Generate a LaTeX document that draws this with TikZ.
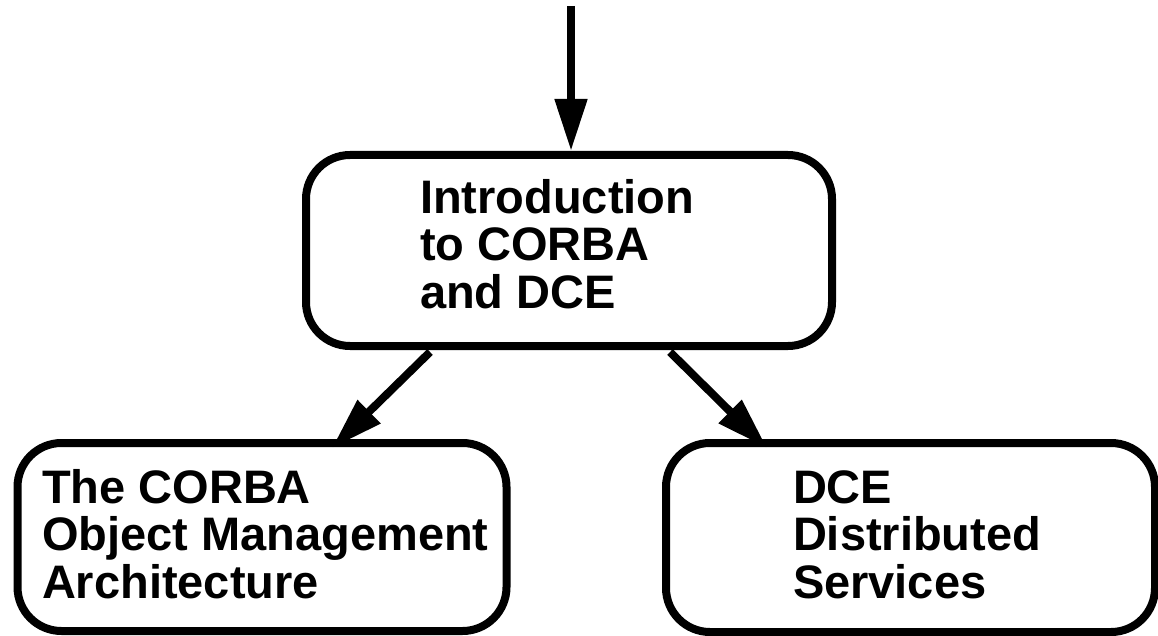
\documentclass[tikz,border=0pt]{standalone}
\usepackage{fontspec}
\setmainfont{Liberation Sans}
\usetikzlibrary{arrows.meta}
\tikzset{
  topic/.style={draw=black, line width=8pt, rounded corners=44pt, inner sep=0pt, fill=none},
  lbl/.style={inner sep=0pt, outer sep=0pt, align=left, anchor=north west,
    font=\fontsize{47}{47.5}\selectfont\bfseries},
  arr/.style={line width=8pt, -{Triangle[length=52pt,width=31pt]}}
}
\begin{document}
\begin{tikzpicture}[x=1pt,y=-1pt]
\useasboundingbox (0,0) rectangle (1158,636);
\node[topic, minimum width=526pt, minimum height=191pt] (intro) at (569,250.5) {};
\node[topic, minimum width=489pt, minimum height=188pt] (omg) at (262,537) {};
\node[topic, minimum width=489pt, minimum height=189pt] (dce) at (910.5,537.5) {};
\node[lbl] (introtext) at (420,173) {\rule{0pt}{40pt}Introduction\\to CORBA\\and DCE};
\node[lbl] (omgtext) at (42,463) {\rule{0pt}{40pt}The CORBA\\Object Management\\Architecture};
\node[lbl] (dcetext) at (793,463) {\rule{0pt}{40pt}DCE\\Distributed\\Services};
\coordinate (src) at (571,6);
\draw[arr] (src) -- (src |- intro.north);
\draw[arr] ([shift={(-139,2)}]intro.south) -- ([shift={(70,9)}]omg.north);
\draw[arr] ([shift={(101,2)}]intro.south) -- ([shift={(-143.5,9)}]dce.north);
\end{tikzpicture}
\end{document}
